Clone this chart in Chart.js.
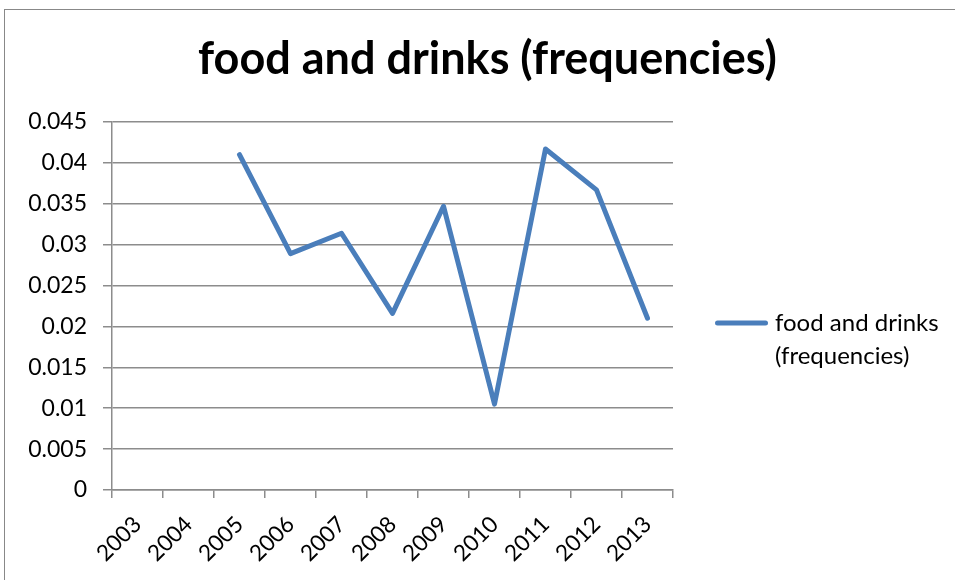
<!DOCTYPE html>
<html>
<head>
<meta charset="utf-8">
<title>food and drinks (frequencies)</title>
<script src="https://cdn.jsdelivr.net/npm/chart.js@4"></script>
<style>
  html, body { margin: 0; padding: 0; background: #fff; overflow: hidden; }
  #wrap { position: relative; width: 955px; height: 580px; }
  #frame {
    position: absolute; left: 4px; top: 9px; width: 1200px; height: 1200px;
    border: 1.5px solid #888;
  }
  #chart { position: absolute; left: 0; top: 0; }
</style>
</head>
<body>
<div id="wrap">
  <div id="frame"></div>
  <canvas id="chart" width="955" height="580"></canvas>
</div>
<script>
// years on the category axis
const years = ["2003", "2004", "2005", "2006", "2007", "2008", "2009", "2010", "2011", "2012", "2013"];
// share of food and drinks mentions; no data for 2003 and 2004
const frequencies = [null, null, 0.041, 0.0289, 0.0314, 0.0216, 0.0347, 0.0105, 0.0417, 0.0367, 0.021];
// value axis
const yTicks = [0, 0.005, 0.01, 0.015, 0.02, 0.025, 0.03, 0.035, 0.04, 0.045];
// legend entry, wrapped on two lines
const legendLines = ["food and drinks", "(frequencies)"];

const seriesName = "food and drinks (frequencies)";
const FONT = "Lato, 'Open Sans', sans-serif";
const GRID = "#8c8c8c";
const LINE = "#4a7ebb";

// legend to the right of the plot: short line sample, label on two lines
const sideLegend = {
  id: "sideLegend",
  afterDraw(chart) {
    const { ctx, chartArea } = chart;
    const x0 = chartArea.right + 44.5;
    const y0 = (chartArea.top + chartArea.bottom) / 2 + 17;
    ctx.save();
    ctx.strokeStyle = LINE;
    ctx.lineWidth = 5;
    ctx.lineCap = "round";
    ctx.beginPath();
    ctx.moveTo(x0, y0);
    ctx.lineTo(x0 + 48, y0);
    ctx.stroke();
    ctx.fillStyle = "#000";
    ctx.font = "24px " + FONT;
    ctx.textAlign = "left";
    ctx.textBaseline = "middle";
    legendLines.forEach((line, i) => ctx.fillText(line, x0 + 57.5, y0 + i * 33));
    ctx.restore();
  }
};

const ctx = document.getElementById("chart").getContext("2d");
new Chart(ctx, {
  type: "line",
  data: {
    labels: years,
    datasets: [{
      label: seriesName,
      data: frequencies,
      borderColor: LINE,
      backgroundColor: LINE,
      borderWidth: 5,
      borderCapStyle: "round",
      borderJoinStyle: "round",
      pointRadius: 0,
      pointHoverRadius: 0,
      tension: 0,
      spanGaps: false,
    }]
  },
  options: {
    responsive: false,
    animation: false,
    layout: { padding: { left: 20, right: 0, top: 0, bottom: 0 } },
    plugins: {
      title: {
        display: true,
        text: seriesName,
        color: "#000",
        font: { family: FONT, size: 45, weight: "bold", lineHeight: 1.2 },
        padding: { top: 32, bottom: 36 }
      },
      legend: { display: false },
      tooltip: { enabled: false }
    },
    scales: {
      x: {
        offset: true,
        grid: {
          offset: true,
          drawOnChartArea: false,
          drawTicks: true,
          tickLength: 8,
          color: GRID,
          lineWidth: 1.5
        },
        border: { display: true, color: GRID, width: 1.5 },
        ticks: {
          color: "#000",
          minRotation: 45,
          maxRotation: 45,
          autoSkip: false,
          padding: 13,
          font: { family: FONT, size: 22.5 }
        },
        afterFit: (scale) => { scale.height = 90; }
      },
      y: {
        min: yTicks[0],
        max: yTicks[yTicks.length - 1],
        afterBuildTicks: (scale) => { scale.ticks = yTicks.map((v) => ({ value: v })); },
        grid: {
          color: GRID,
          lineWidth: 1.5,
          drawTicks: true,
          tickLength: 9
        },
        border: { display: true, color: GRID, width: 1.5 },
        ticks: {
          color: "#000",
          padding: 16,
          font: { family: FONT, size: 23 },
          callback: (v) => String(Number(v.toFixed(3)))
        },
        afterFit: (scale) => { scale.width = 92; }
      },
      // keeps room on the right for the legend
      legendSpace: {
        position: "right",
        display: true,
        grid: { display: false, drawTicks: false },
        border: { display: false },
        ticks: { display: false },
        afterFit: (scale) => { scale.width = 282; }
      }
    }
  },
  plugins: [sideLegend]
});
</script>
</body>
</html>
